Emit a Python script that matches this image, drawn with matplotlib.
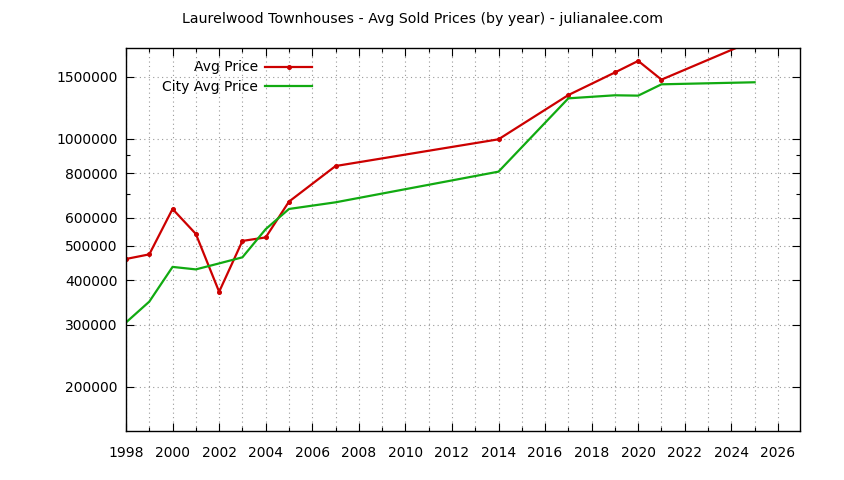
import matplotlib
matplotlib.use("Agg")
import matplotlib.pyplot as plt
from matplotlib.ticker import FixedLocator, MultipleLocator, FuncFormatter

# Data
years_avg = [1998, 1999, 2000, 2001, 2002, 2003, 2004, 2005, 2007, 2014,
             2017, 2019, 2020, 2021, 2025]
avg_price = [459000, 473000, 635000, 540000, 371000, 516000, 528000, 666000,
             839000, 998000, 1330000, 1540000, 1660000, 1470000, 1900000]

years_city = [1998, 1999, 2000, 2001, 2002, 2003, 2004, 2005, 2007, 2014,
              2017, 2019, 2020, 2021, 2025]
city_price = [304000, 348000, 436000, 429000, 446000, 464000, 557000, 635000,
              663000, 809000, 1302000, 1328000, 1325000, 1426000, 1445000]

y_major = [200000, 300000, 400000, 500000, 600000, 800000, 1000000, 1500000]
y_minor = [700000, 900000]

title = "Laurelwood Townhouses - Avg Sold Prices (by year) - julianalee.com"

plt.rcParams['font.family'] = ['DejaVu Sans']
plt.rcParams['font.size'] = 10

fig = plt.figure(figsize=(8.44, 4.80), dpi=100)
ax = fig.add_axes([126/844, 49/480, 674/844, 383/480])

ax.plot(years_avg, avg_price, color='#cc0000', lw=1.6, marker='o', ms=2.6,
        label='Avg Price')
ax.plot(years_city, city_price, color='#11aa11', lw=1.6, label='City Avg Price')

ax.set_yscale('log')
ax.set_ylim(150300, 1805000)
ax.set_xlim(1998, 2026.95)

ax.yaxis.set_major_locator(FixedLocator(y_major))
ax.yaxis.set_minor_locator(FixedLocator(y_minor))
ax.yaxis.set_major_formatter(FuncFormatter(lambda v, p: '%d' % round(v)))
ax.yaxis.set_minor_formatter(FuncFormatter(lambda v, p: ''))
ax.xaxis.set_major_locator(MultipleLocator(2))
ax.xaxis.set_minor_locator(MultipleLocator(1))

ax.tick_params(which='both', direction='in', top=True, right=True, width=0.8)
ax.tick_params(which='major', length=6)
ax.tick_params(which='minor', length=3)
ax.tick_params(axis='x', which='major', pad=11)
ax.tick_params(axis='y', which='major', pad=6)

ax.grid(axis='x', which='both', color='#999999', ls=(0, (1, 3)), lw=0.8)
ax.grid(axis='y', which='major', color='#999999', ls=(0, (1, 3)), lw=0.8)
for s in ax.spines.values():
    s.set_linewidth(1.0)

ax.legend(loc='upper left', bbox_to_anchor=(0.035, 1.0), frameon=False,
          markerfirst=False, handlelength=3.4, handletextpad=0.5,
          labelspacing=0.4, borderaxespad=0.5, fontsize=10)

fig.text(0.5, 1 - 19/480, title, ha='center', va='center', fontsize=10.2)

fig.savefig('out.png', dpi=100)
